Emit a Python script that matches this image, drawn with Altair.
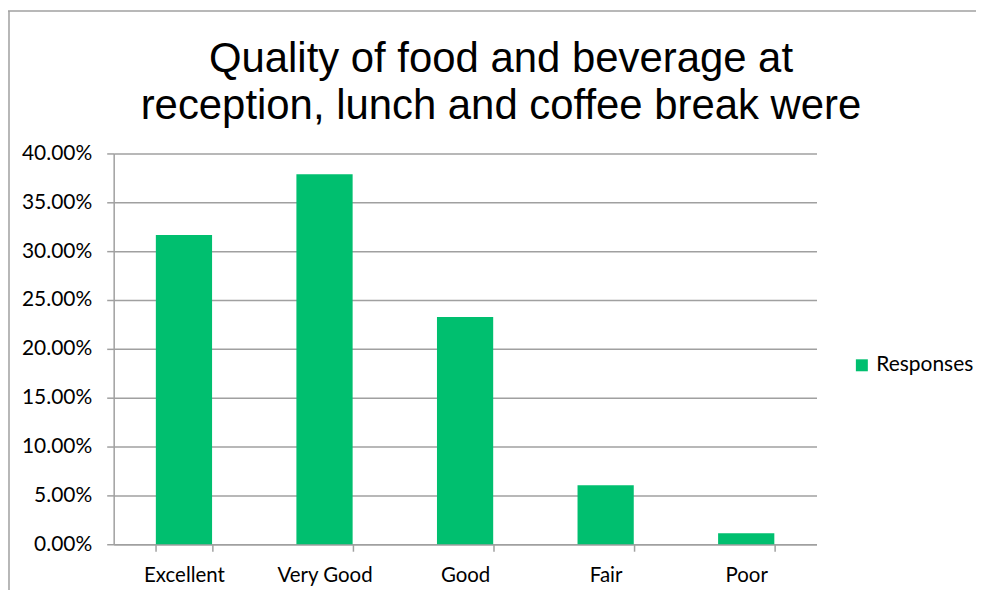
import altair as alt
import pandas as pd

categories = ["Excellent", "Very Good", "Good", "Fair", "Poor"]
values = [0.3165, 0.3786, 0.2326, 0.0603, 0.0113]
series_name = "Responses"
title_lines = ["Quality of food and beverage at", "reception, lunch and coffee break were"]

GREEN = "#00BF6F"
GRAY = "#a0a0a0"
W, H = 705, 392

df = pd.DataFrame({"category": categories, "value": values, "series": [series_name] * len(categories)})
title_df = pd.DataFrame({"k": [0]})

bars = alt.Chart(df).mark_bar(color=GREEN).encode(
    x=alt.X("category:N", sort=categories, title=None,
            scale=alt.Scale(paddingInner=0.6, paddingOuter=0.3),
            axis=alt.Axis(labelAngle=0, tickBand="extent", tickSize=7, labelPadding=14,
                          domainColor=GRAY, domainWidth=1.5, tickColor=GRAY, tickWidth=1.5,
                          labelFont="Lato", labelFontSize=20.5, labelColor="#000000")),
    y=alt.Y("value:Q", title=None, scale=alt.Scale(domain=[0, 0.4], nice=False),
            axis=alt.Axis(format=".2%", values=[i * 0.05 for i in range(9)], tickSize=7,
                          labelPadding=15, domainColor=GRAY, domainWidth=1.5,
                          tickColor=GRAY, tickWidth=1.5, gridColor=GRAY, gridWidth=1.5,
                          labelFont="Lato", labelFontSize=21, labelColor="#000000")),
    color=alt.Color("series:N", scale=alt.Scale(range=[GREEN]),
                    legend=alt.Legend(title=None, orient="none", legendX=740, legendY=202,
                                      symbolType="square", symbolSize=144, symbolStrokeWidth=0,
                                      labelFont="Lato", labelFontSize=21, labelColor="#000000",
                                      labelOffset=4)),
)

title = alt.Chart(title_df).mark_text(
    font="Liberation Sans", fontSize=42, color="#000000", align="center",
    baseline="alphabetic", lineHeight=47,
).encode(x=alt.value(W / 2 + 36), y=alt.value(-82), text=alt.value(title_lines))

frame_top = alt.Chart(title_df).mark_rule(color=GRAY, strokeWidth=1.5).encode(
    x=alt.value(-110), x2=alt.value(W + 170), y=alt.value(-143))
frame_left = alt.Chart(title_df).mark_rule(color=GRAY, strokeWidth=1.5).encode(
    x=alt.value(-105), y=alt.value(-143), y2=alt.value(H + 60))

chart = alt.layer(frame_top, frame_left, title, bars).properties(
    width=W, height=H,
    autosize=alt.AutoSizeParams(type="none"),
    padding={"left": 106, "top": 145, "right": 160, "bottom": 45},
).configure_view(stroke=None)

chart.save("out.html", embed_options={"renderer": "svg", "actions": False})
